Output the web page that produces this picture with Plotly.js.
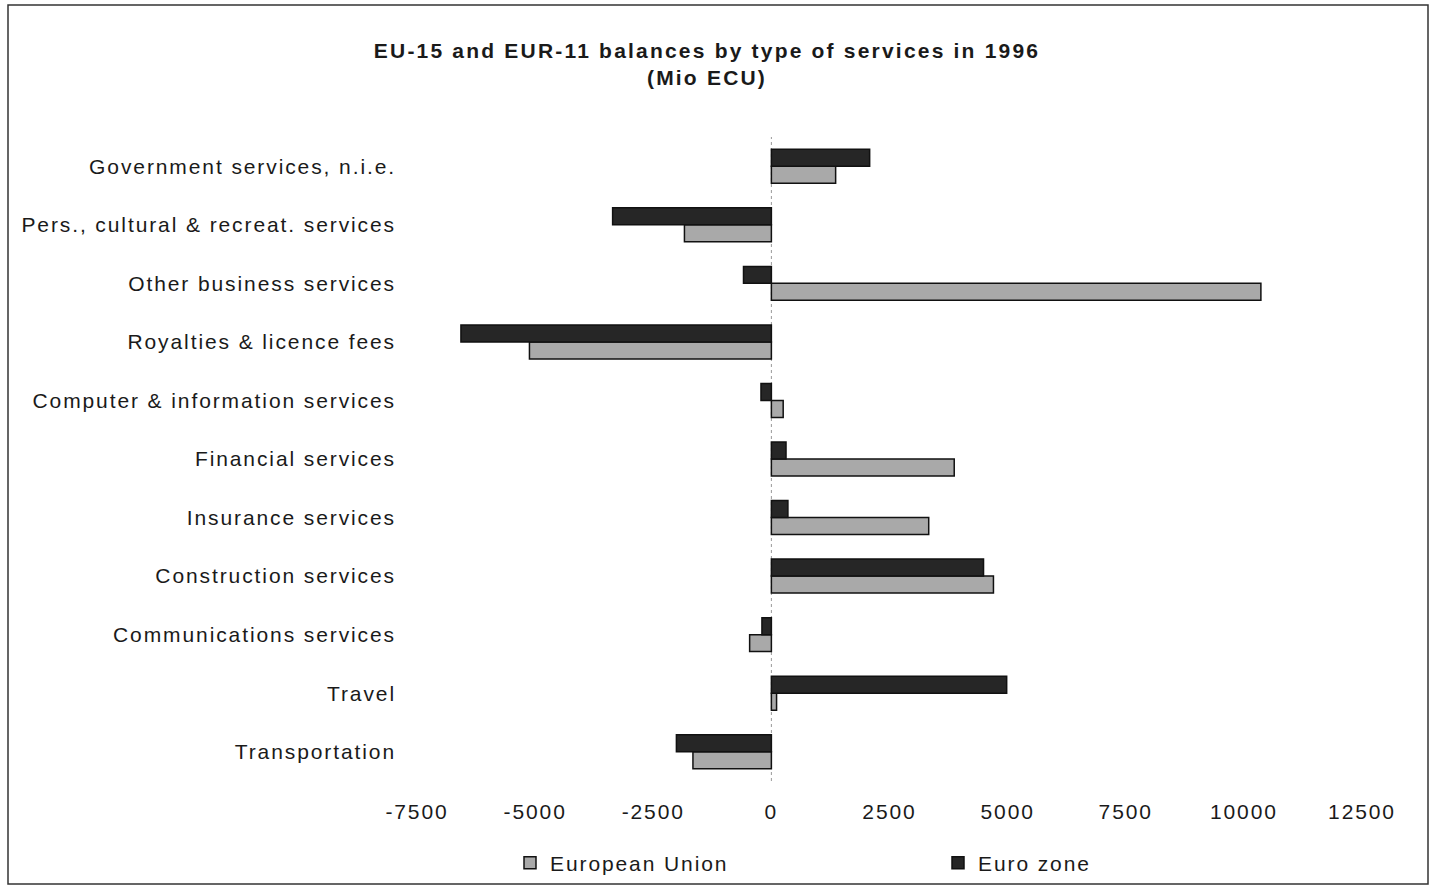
<!DOCTYPE html>
<html>
<head>
<meta charset="utf-8">
<script src="https://cdn.plot.ly/plotly-3.0.1.min.js"></script>
<style>
  html, body { margin: 0; padding: 0; background: #ffffff; }
  #chart { width: 1433px; height: 886px; }
  text { letter-spacing: 1.9px; }
  text.gtitle { letter-spacing: 2.2px; }
</style>
</head>
<body>
<div id="chart"></div>
<script>
// Service categories, listed bottom to top
const categories = [
  "Transportation",
  "Travel",
  "Communications services",
  "Construction services",
  "Insurance services",
  "Financial services",
  "Computer & information services",
  "Royalties & licence fees",
  "Other business services",
  "Pers., cultural & recreat. services",
  "Government services, n.i.e."
];

// Balances in Mio ECU
const europeanUnion = [-1660, 110, -460, 4700, 3330, 3870, 250, -5120, 10360, -1840, 1360];
const euroZone      = [-2010, 4980, -200, 4490, 350, 310, -220, -6570, -590, -3360, 2080];

const xTickVals = [-7500, -5000, -2500, 0, 2500, 5000, 7500, 10000, 12500];

const font = { family: "Liberation Sans, Arial, sans-serif", size: 21, color: "#1a1a1a" };

const traces = [
  {
    type: "bar", orientation: "h", name: "European Union", legend: "legend",
    y: categories, x: europeanUnion,
    marker: { color: "#a9a9a9", line: { color: "#111111", width: 1.5 } }
  },
  {
    type: "bar", orientation: "h", name: "Euro zone", legend: "legend2",
    y: categories, x: euroZone,
    marker: { color: "#262626", line: { color: "#111111", width: 1.5 } }
  }
];

// plot area in pixels
const L = 417, R = 71, T = 137, B = 105, W = 1433, H = 886;
const pw = W - L - R, ph = H - T - B;
const px = v => (v - L) / pw;
const py = v => (H - B - v) / ph;

const legendStyle = (left) => ({
  orientation: "h", x: px(left), y: py(863), xanchor: "left", yanchor: "middle",
  itemwidth: 30, font: font, bgcolor: "rgba(0,0,0,0)"
});

const layout = {
  width: W, height: H,
  margin: { l: L, r: R, t: T, b: B, pad: 0, autoexpand: false },
  paper_bgcolor: "#ffffff", plot_bgcolor: "#ffffff",
  font: font,
  barmode: "group",
  bargap: 0.42, bargroupgap: 0,
  showlegend: true,
  title: {
    text: "<b>EU-15 and EUR-11 balances by type of services in 1996<br>(Mio ECU)</b>",
    font: { family: font.family, size: 21, color: "#1a1a1a" },
    x: 707 / W, xanchor: "center", xref: "container",
    y: 1 - 58 / H, yanchor: "top", yref: "container"
  },
  xaxis: {
    range: [-7500, 12500], tickvals: xTickVals,
    ticktext: xTickVals.map(String),
    showgrid: false, zeroline: false, showline: false, ticks: "",
    ticklabelstandoff: 16,
    tickfont: font
  },
  yaxis: {
    type: "category", categoryorder: "array", categoryarray: categories,
    showgrid: false, zeroline: false, showline: false, ticks: "",
    ticklabelstandoff: 20,
    tickfont: font
  },
  legend: legendStyle(510),
  legend2: legendStyle(938),
  shapes: [
    { type: "line", xref: "x", yref: "paper", x0: 0, x1: 0, y0: 0, y1: 1,
      line: { color: "#999999", width: 1, dash: "dot" }, layer: "below" },
    { type: "rect", xref: "paper", yref: "paper",
      x0: px(8), x1: px(1428), y0: py(884), y1: py(5),
      line: { color: "#333333", width: 1.5 }, fillcolor: "rgba(0,0,0,0)", layer: "below" }
  ]
};

Plotly.newPlot("chart", traces, layout, { displayModeBar: false, staticPlot: true });
</script>
</body>
</html>
